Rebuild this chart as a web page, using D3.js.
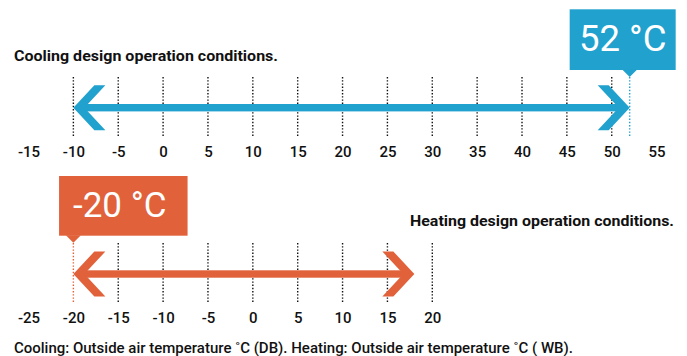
<!DOCTYPE html>
<html>
<head>
<meta charset="utf-8">
<script src="https://cdn.jsdelivr.net/npm/d3@7"></script>
<style>
  html, body { margin: 0; padding: 0; background: #fff; }
  svg { display: block; font-family: Roboto, "Noto Sans", sans-serif; }
</style>
</head>
<body>
<svg id="chart" width="687" height="356"></svg>
<script>
// Operating ranges (outside air temperature, °C)
const coolingTicks = [-15, -10, -5, 0, 5, 10, 15, 20, 25, 30, 35, 40, 45, 50, 55];
const coolingGrid = [-10, -5, 0, 5, 10, 15, 20, 25, 30, 35, 40, 45, 50];
const coolingRange = [-10, 52];
const coolingLimitLabel = "52 °C";

const heatingTicks = [-25, -20, -15, -10, -5, 0, 5, 10, 15, 20];
const heatingGrid = [-15, -10, -5, 0, 5, 10, 15, 20];
const heatingRange = [-20, 18];
const heatingLimitLabel = "-20 °C";

const titles = ["Cooling design operation conditions.", "Heating design operation conditions."];
const caption = "Cooling: Outside air temperature ˚C (DB). Heating: Outside air temperature ˚C ( WB).";

const BLUE = "#21a1cd";
const ORANGE = "#e1623a";
const INK = "#111";

const svg = d3.select("#chart");

const xCool = d3.scaleLinear().domain([-15, 55]).range([28.5, 656.6]);
const xHeat = d3.scaleLinear().domain([-25, 20]).range([28.5, 432.3]);

// chevron head: tip at origin, pointing right (dir = 1) or left (dir = -1)
function chevron(dir) {
  const p = [[0, 0], [-21, -22.5], [-32, -22.5], [-11, 0], [-32, 22.5], [-21, 22.5]];
  return "M" + p.map(d => [d[0] * dir, d[1]].join(",")).join("L") + "Z";
}

function panel(cfg) {
  const g = svg.append("g");
  const x = cfg.x;

  // dotted grid
  g.selectAll("line.grid").data(cfg.grid).join("line")
    .attr("class", "grid")
    .attr("x1", d => x(d)).attr("x2", d => x(d))
    .attr("y1", cfg.gridTop).attr("y2", cfg.gridBottom)
    .attr("stroke", INK).attr("stroke-width", 1.4)
    .attr("stroke-dasharray", "1.4,1.8");

  // limit marker line
  g.append("line")
    .attr("x1", x(cfg.limit)).attr("x2", x(cfg.limit))
    .attr("y1", cfg.gridTop).attr("y2", cfg.gridBottom)
    .attr("stroke", cfg.color).attr("stroke-width", 1.4)
    .attr("stroke-dasharray", "1.4,1.8");

  // double arrow
  const y = cfg.arrowY;
  const x0 = x(cfg.range[0]), x1 = x(cfg.range[1]);
  g.append("rect")
    .attr("x", x0 + 6).attr("y", y - 3.7)
    .attr("width", x1 - x0 - 12).attr("height", 7.4)
    .attr("fill", cfg.color);
  g.append("path").attr("d", chevron(-1))
    .attr("transform", `translate(${x0},${y})`).attr("fill", cfg.color);
  g.append("path").attr("d", chevron(1))
    .attr("transform", `translate(${x1},${y})`).attr("fill", cfg.color);

  // axis labels
  const axis = d3.axisBottom(x).tickValues(cfg.ticks).tickSize(0).tickPadding(0)
    .tickFormat(d3.format("d"));
  const ag = g.append("g").attr("transform", `translate(0,${cfg.labelBaseline - 10.8})`).call(axis);
  ag.select(".domain").remove();
  ag.selectAll("text")
    .attr("fill", INK)
    .attr("font-size", 15).attr("font-weight", 500)
    .attr("font-family", "Roboto, sans-serif")
    .text(d => d < 0 ? "-" + Math.abs(d) : d);

  // callout box with pointer
  const px = x(cfg.limit);
  const bx = px - cfg.boxLeft;
  g.append("rect")
    .attr("x", bx).attr("y", cfg.boxTop)
    .attr("width", cfg.boxWidth).attr("height", cfg.boxHeight)
    .attr("fill", cfg.color);
  const by = cfg.boxTop + cfg.boxHeight;
  g.append("path")
    .attr("d", `M${px - 7.5},${by - 0.5}L${px + 7.5},${by - 0.5}L${px},${by + 7}Z`)
    .attr("fill", cfg.color);
  g.append("text")
    .attr("x", bx + cfg.boxWidth / 2 + cfg.textShift).attr("y", cfg.textBaseline)
    .attr("text-anchor", "middle")
    .attr("fill", "#fff").attr("font-size", cfg.textSize).attr("font-weight", 400)
    .text(cfg.label);

  // panel title
  g.append("text")
    .attr("x", cfg.titleX).attr("y", cfg.titleY)
    .attr("text-anchor", cfg.titleAnchor)
    .attr("fill", INK).attr("font-size", 15).attr("font-weight", 700)
    .attr("textLength", cfg.titleLen).attr("lengthAdjust", "spacingAndGlyphs")
    .text(cfg.title);
}

panel({
  x: xCool, grid: coolingGrid, ticks: coolingTicks, range: coolingRange,
  limit: coolingRange[1], color: BLUE, label: coolingLimitLabel,
  gridTop: 77, gridBottom: 136, arrowY: 107.7, labelBaseline: 157.3,
  boxLeft: 60, boxWidth: 106, boxTop: 9.3, boxHeight: 60.7,
  textBaseline: 50.8, textSize: 36.5, textShift: 0,
  title: titles[0], titleX: 14, titleY: 61, titleAnchor: "start", titleLen: 264
});

panel({
  x: xHeat, grid: heatingGrid, ticks: heatingTicks, range: heatingRange,
  limit: heatingRange[0], color: ORANGE, label: heatingLimitLabel,
  gridTop: 243, gridBottom: 302, arrowY: 274, labelBaseline: 322.7,
  boxLeft: 14.3, boxWidth: 128.5, boxTop: 176, boxHeight: 59.7,
  textBaseline: 216.8, textSize: 35, textShift: -3.5,
  title: titles[1], titleX: 674, titleY: 226, titleAnchor: "end", titleLen: 264
});

// footnote
svg.append("text")
  .attr("x", 14).attr("y", 352.5)
  .attr("fill", INK).attr("font-size", 14.5).attr("font-weight", 500)
  .attr("textLength", 559).attr("lengthAdjust", "spacingAndGlyphs")
  .text(caption);
</script>
</body>
</html>
